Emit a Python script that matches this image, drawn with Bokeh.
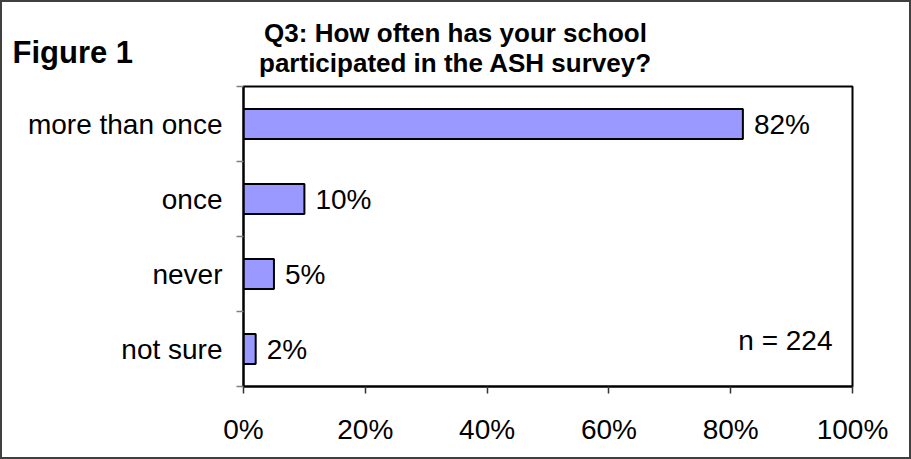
from bokeh.plotting import figure
from bokeh.layouts import column
from bokeh.models import Range1d, FixedTicker, Label, ColumnDataSource
from bokeh.core.properties import value
from bokeh.embed import file_html
from bokeh.resources import INLINE

categories = ["more than once", "once", "never", "not sure"]
values = [82, 10, 5, 2]
value_labels = ["82%", "10%", "5%", "2%"]
x_ticks = [0, 20, 40, 60, 80, 100]
x_tick_labels = ["0%", "20%", "40%", "60%", "80%", "100%"]
title_lines = ["Q3: How often has your school", "participated in the ASH survey?"]
figure_label = "Figure 1"
n_label = "n = 224"

FONT = "Liberation Sans"
W = 907          # inner width (2px CSS border on each side)
HEAD_H = 83
MAIN_H = 372

# ---------- header (figure label + two-line title) ----------
head = figure(width=W, height=HEAD_H, output_backend="svg", toolbar_location=None,
              x_range=Range1d(0, W), y_range=Range1d(HEAD_H, 0),
              x_axis_location=None, y_axis_location=None,
              min_border=0, min_border_left=0, min_border_right=0,
              min_border_top=0, min_border_bottom=0)
head.frame_align = False
head.outline_line_color = None
head.xgrid.visible = False
head.ygrid.visible = False
head.background_fill_color = "white"
head.border_fill_color = "white"
hcommon = dict(text_font=FONT, text_color="black", text_font_style="bold")
head.add_layout(Label(x=453, y=30, text=title_lines[0], text_align="center",
                      text_baseline="middle", text_font_size="26px", **hcommon))
head.add_layout(Label(x=453, y=60, text=title_lines[1], text_align="center",
                      text_baseline="middle", text_font_size="26px", **hcommon))
head.add_layout(Label(x=10, y=50, text=figure_label, text_align="left",
                      text_baseline="middle", text_font_size="31px", **hcommon))

# ---------- main chart ----------
pos = list(range(len(categories)))
src = ColumnDataSource(dict(y=pos, v=values, lab=value_labels))

p = figure(width=W, height=MAIN_H, output_backend="svg", toolbar_location=None,
           x_range=Range1d(0, 100), y_range=Range1d(len(categories) - 0.5, -0.5),
           min_border_left=241, min_border_right=57, min_border_top=1, min_border_bottom=71)
p.frame_align = False
p.background_fill_color = "white"
p.border_fill_color = "white"
p.outline_line_color = "black"
p.outline_line_width = 2
p.xgrid.visible = False
p.ygrid.visible = False

p.hbar(y="y", right="v", left=0, height=0.4, source=src,
       fill_color="#9999FF", line_color="black", line_width=2)
p.text(x="v", y="y", text="lab", source=src, x_offset=11, text_baseline="middle",
       text_align="left", text_font_size="28px", text_font=value(FONT), text_color="black")

xa = p.xaxis[0]
xa.ticker = FixedTicker(ticks=x_ticks, minor_ticks=[])
xa.major_label_overrides = {t: l for t, l in zip(x_ticks, x_tick_labels)}
xa.axis_line_color = "black"
xa.axis_line_width = 2
xa.major_tick_line_color = "#333333"
xa.major_tick_line_width = 1.5
xa.major_tick_out = 7
xa.major_tick_in = 0
xa.major_label_standoff = 20
xa.major_label_text_font_size = "28px"
xa.major_label_text_font = FONT
xa.major_label_text_color = "black"

ya = p.yaxis[0]
ya.ticker = FixedTicker(ticks=pos, minor_ticks=[i - 0.5 for i in range(len(categories) + 1)])
ya.major_label_overrides = {i: c for i, c in zip(pos, categories)}
ya.axis_line_color = "black"
ya.axis_line_width = 2
ya.major_tick_line_color = None
ya.major_tick_out = 0
ya.major_tick_in = 0
ya.minor_tick_line_color = "#808080"
ya.minor_tick_line_width = 1.5
ya.minor_tick_out = 7
ya.minor_tick_in = 0
ya.major_label_standoff = 14
ya.major_label_text_font_size = "28px"
ya.major_label_text_font = FONT
ya.major_label_text_color = "black"

p.add_layout(Label(x=100, y=len(categories) - 0.5, x_offset=-20, y_offset=46, text=n_label,
                   text_align="right", text_baseline="middle", text_font=FONT,
                   text_font_size="28px", text_color="black"))

layout = column(head, p, spacing=0,
                styles={"border": "2px solid #404040", "background-color": "white"})

open("out.html", "w").write(file_html(layout, INLINE))
